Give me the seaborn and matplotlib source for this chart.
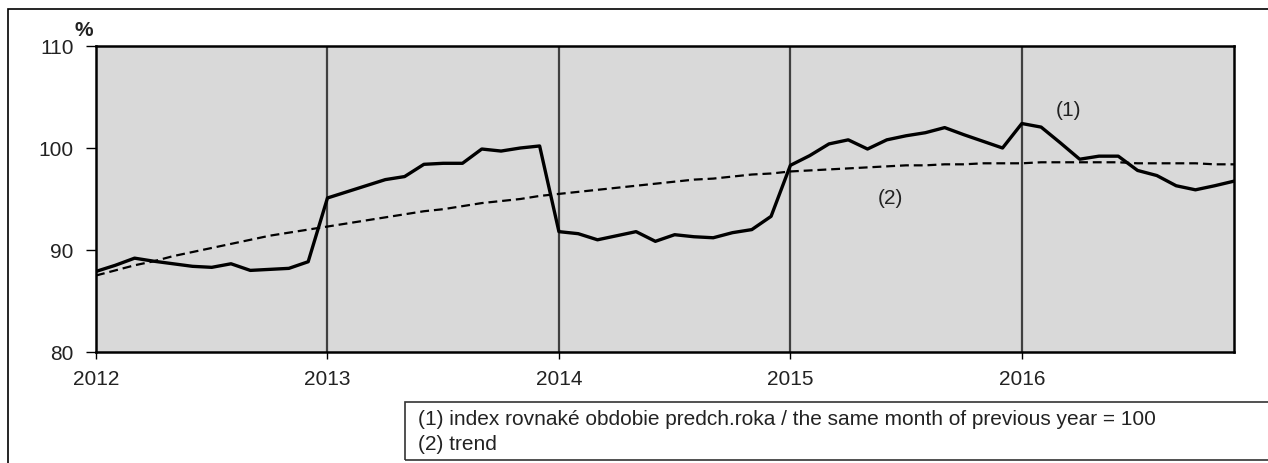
import numpy as np
import pandas as pd
import matplotlib
matplotlib.use("Agg")
import matplotlib.pyplot as plt
from matplotlib.patches import Rectangle
import seaborn as sns

# months since Jan 2012
months = list(range(60))

index_prev_year = [
    87.9, 88.5, 89.2, 88.9, 88.65, 88.4, 88.3, 88.65, 88.0, 88.1, 88.2, 88.85,
    95.1, 95.7, 96.3, 96.9, 97.2, 98.4, 98.5, 98.5, 99.9, 99.7, 100.0, 100.2,
    91.8, 91.6, 91.0, 91.4, 91.8, 90.85, 91.5, 91.3, 91.2, 91.7, 92.0, 93.3,
    98.3, 99.25, 100.4, 100.8, 99.9, 100.8, 101.2, 101.5, 102.0, 101.3, 100.65, 100.0,
    102.4, 102.05, 100.5, 98.9, 99.2, 99.2, 97.8, 97.3, 96.3, 95.9, 96.3, 96.75,
]

trend = [
    87.5, 88.0, 88.5, 88.9, 89.4, 89.8, 90.2, 90.6, 91.0, 91.4, 91.7, 92.0,
    92.3, 92.6, 92.9, 93.2, 93.5, 93.8, 94.0, 94.3, 94.6, 94.8, 95.0, 95.3,
    95.5, 95.7, 95.9, 96.1, 96.3, 96.5, 96.7, 96.9, 97.0, 97.2, 97.4, 97.5,
    97.7, 97.8, 97.9, 98.0, 98.1, 98.2, 98.3, 98.3, 98.4, 98.4, 98.5, 98.5,
    98.5, 98.6, 98.6, 98.6, 98.6, 98.6, 98.5, 98.5, 98.5, 98.5, 98.4, 98.4,
]

year_labels = ["2012", "2013", "2014", "2015", "2016"]
legend_lines = [
    "(1) index rovnaké obdobie predch.roka / the same month of previous year = 100",
    "(2) trend",
]

df = pd.DataFrame({"month": months, "index": index_prev_year, "trend": trend})

sns.set_style("white")
plt.rcParams["font.family"] = ["Liberation Sans", "DejaVu Sans"]

fig = plt.figure(figsize=(12.68, 4.64), dpi=100)
ax = fig.add_axes([96 / 1268, 1 - 353 / 464, (1234 - 96) / 1268, (353 - 47) / 464])
ax.set_facecolor("#d9d9d9")

# year separators
for m in [12, 24, 36, 48]:
    ax.axvline(m, color="#404040", lw=1.6, zorder=1)

sns.lineplot(data=df, x="month", y="trend", ax=ax, color="black", lw=1.6,
             linestyle=(0, (4.0, 2.2)), zorder=3)
sns.lineplot(data=df, x="month", y="index", ax=ax, color="black", lw=2.4, zorder=4)

ax.set_xlim(0, 59)
ax.set_ylim(80, 110)
ax.set_xticks([0, 12, 24, 36, 48])
ax.set_xticklabels(year_labels)
ax.set_yticks([80, 90, 100, 110])
ax.set_xlabel("")
ax.set_ylabel("")
ax.tick_params(axis="y", direction="out", length=7, width=1, colors="black",
               labelsize=15, labelcolor="#222222", pad=9, left=True)
ax.tick_params(axis="x", direction="out", length=5, width=1, colors="black",
               labelsize=15, labelcolor="#222222", pad=7, bottom=True)
for s in ax.spines.values():
    s.set_color("black")
    s.set_linewidth(1.8)

fig.text(84 / 1268, 1 - 31 / 464, "%", fontsize=15, fontweight="bold",
         ha="center", va="center", color="#222222")
ax.text(50.4, 103.8, "(1)", fontsize=15, ha="center", va="center", color="#222222")
ax.text(41.2, 95.15, "(2)", fontsize=15, ha="center", va="center", color="#222222")

# outer frame (cropped at right/bottom)
fig.patches.append(Rectangle((8 / 1268, -0.1), 1.2, 1 - 10 / 464 + 0.1,
                             transform=fig.transFigure, fill=False,
                             edgecolor="black", lw=1.2))
# note box
fig.patches.append(Rectangle((405 / 1268, 1 - 461 / 464), 1.0, (461 - 403) / 464,
                             transform=fig.transFigure, fill=False,
                             edgecolor="#333333", lw=1.2))
fig.text(418 / 1268, 1 - 420 / 464, legend_lines[0], fontsize=15, va="center",
         ha="left", color="#222222")
fig.text(418 / 1268, 1 - 445 / 464, legend_lines[1], fontsize=15, va="center",
         ha="left", color="#222222")

fig.savefig("out.png", dpi=100)
